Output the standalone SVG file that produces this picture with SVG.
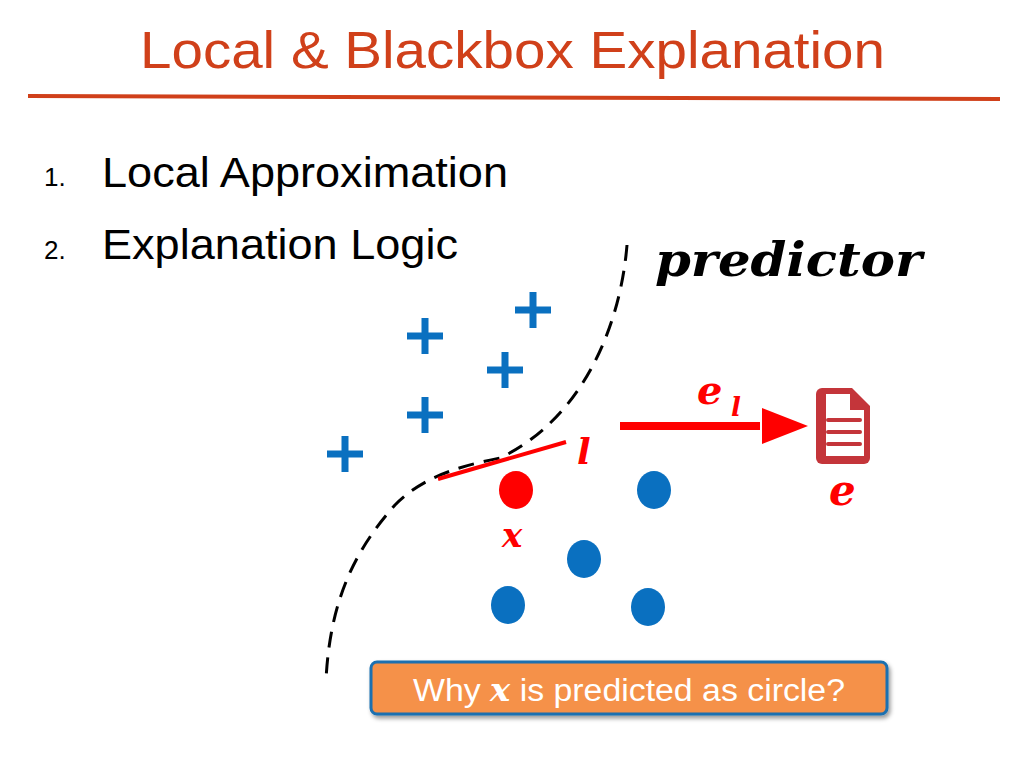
<svg xmlns="http://www.w3.org/2000/svg" width="1024" height="768" viewBox="0 0 1024 768">
<defs>
<style>
.t{font-family:"Liberation Sans",Arial,sans-serif}
.m{font-family:"DejaVu Serif","Liberation Serif",serif;font-style:italic;font-weight:bold}
.plus{stroke:#0a70c0;stroke-width:7;fill:none}
.dot{fill:#0a70c0}
</style>
<filter id="sh" x="-5%" y="-20%" width="110%" height="150%"><feDropShadow dx="2" dy="3" stdDeviation="2" flood-opacity="0.4"/></filter>
</defs>
<rect width="1024" height="768" fill="#fff"/>
<text x="140" y="68" class="t" font-size="52" fill="#d0401a" textLength="745" lengthAdjust="spacingAndGlyphs">Local &amp; Blackbox Explanation</text>
<line x1="28" y1="96" x2="1000" y2="99" stroke="#d0401a" stroke-width="4"/>
<text x="44" y="186" class="t" font-size="26" fill="#000">1.</text>
<text x="102" y="187" class="t" font-size="42" fill="#000" textLength="406" lengthAdjust="spacingAndGlyphs">Local Approximation</text>
<text x="44" y="259" class="t" font-size="26" fill="#000">2.</text>
<text x="102" y="259" class="t" font-size="42" fill="#000" textLength="356" lengthAdjust="spacingAndGlyphs">Explanation Logic</text>
<text x="655" y="276" class="m" font-size="46" fill="#000" textLength="267" lengthAdjust="spacingAndGlyphs">predictor</text>
<g id="boundary"><path d="M627,245 C620,330 580,420 500,458 C450,468 420,480 395,505 C355,550 330,600 326,680" fill="none" stroke="#000" stroke-width="3" stroke-dasharray="16,10"/></g>
<g id="plus">
<path class="plus" d="M533,292v36M515,310h36"/>
<path class="plus" d="M425,318v36M407,336h36"/>
<path class="plus" d="M505,352v36M487,370h36"/>
<path class="plus" d="M425,397v36M407,415h36"/>
<path class="plus" d="M345,436v36M327,454h36"/>
</g>
<g id="dots">
<ellipse cx="516" cy="490" rx="17" ry="19" fill="#ff0000"/>
<ellipse class="dot" cx="654" cy="490" rx="17" ry="19"/>
<ellipse class="dot" cx="584" cy="559" rx="17" ry="19"/>
<ellipse class="dot" cx="508" cy="605" rx="17" ry="19"/>
<ellipse class="dot" cx="648" cy="607" rx="17" ry="19"/>
</g>
<line x1="438" y1="479" x2="566" y2="442" stroke="#ff0000" stroke-width="4"/>
<text x="577" y="464" class="m" font-size="36" fill="#ff0000">l</text>
<text x="502" y="547" class="m" font-size="34" fill="#ff0000">x</text>
<g id="connectors"><line x1="620" y1="426" x2="760" y2="426" stroke="#ff0000" stroke-width="8"/><path d="M762,408L808,426L762,444z" fill="#ff0000"/></g>
<text x="697" y="404" class="m" font-size="40" fill="#ff0000">e</text>
<text x="731" y="416" class="m" font-size="26" fill="#ff0000">l</text>
<g id="doc">
<path d="M822,388h30l18,18v52a6,6 0 0 1 -6,6h-42a6,6 0 0 1 -6,-6v-64a6,6 0 0 1 6,-6z" fill="#c4353a"/>
<path d="M826,394h24v16h14v46h-38z" fill="#fff"/>
<path d="M828,420h32M828,432h32M828,444h32" stroke="#c4353a" stroke-width="4" stroke-linecap="round"/>
</g>
<text x="829" y="505" class="m" font-size="42" fill="#ff0000">e</text>
<g id="question">
<rect x="371" y="662" width="516" height="52" rx="6" fill="#f5914a" stroke="#1a6fb0" stroke-width="3" filter="url(#sh)"/>
<text x="413" y="701" class="t" font-size="31" fill="#fff" textLength="432" lengthAdjust="spacingAndGlyphs">Why <tspan class="m" font-weight="normal">x</tspan> is predicted as circle?</text>
</g>
</svg>
